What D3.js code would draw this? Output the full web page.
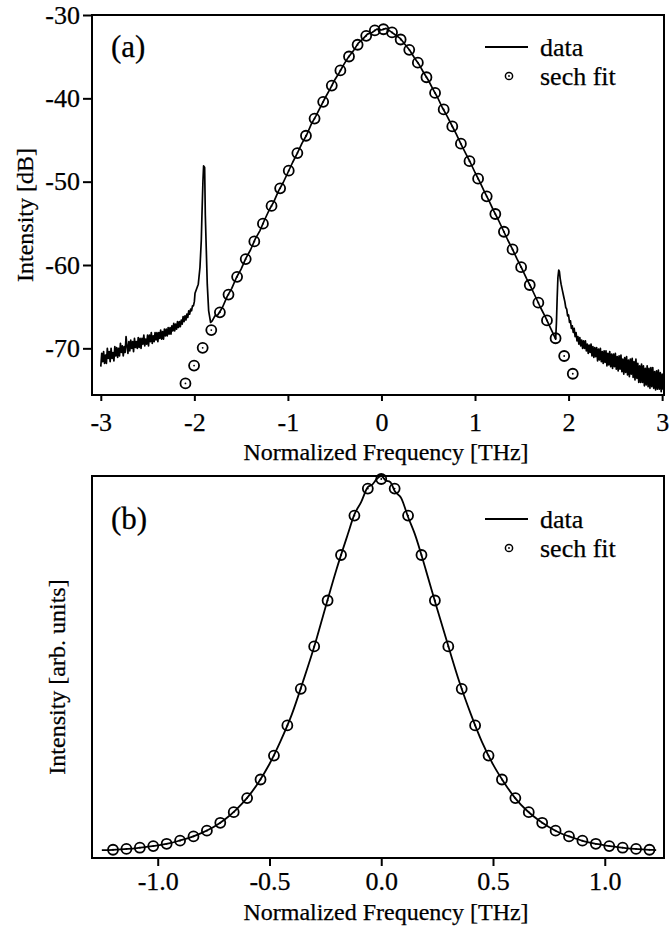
<!DOCTYPE html>
<html><head><meta charset="utf-8">
<script src="https://cdn.jsdelivr.net/npm/d3@7"></script>
<style>body{margin:0;background:#fff}svg text{font-family:'Liberation Serif','Times New Roman',serif;fill:#000;stroke:#000;stroke-width:0.25px}</style>
</head><body>
<svg id="c" width="670" height="940" font-family="Liberation Serif"></svg>
<script>
// ---------- Panel (a) ----------
const freqTicksA = [-3, -2, -1, 0, 1, 2, 3];
const intTicksA = [-30, -40, -50, -60, -70];
const fitFreqA = [-2.095,-2.003,-1.911,-1.819,-1.727,-1.635,-1.543,-1.451,-1.359,-1.267,-1.175,-1.083,-0.991,-0.899,-0.807,-0.715,-0.623,-0.531,-0.439,-0.347,-0.255,-0.163,-0.071,0.021,0.113,0.205,0.297,0.389,0.481,0.573,0.665,0.757,0.849,0.941,1.033,1.125,1.217,1.309,1.401,1.493,1.585,1.677,1.769,1.861,1.953,2.045];
const fitIntA = [-74.21,-72.07,-69.94,-67.81,-65.68,-63.55,-61.42,-59.29,-57.17,-55.04,-52.91,-50.80,-48.68,-46.57,-44.49,-42.43,-40.42,-38.47,-36.65,-34.98,-33.57,-32.50,-31.85,-31.71,-32.09,-32.94,-34.18,-35.72,-37.47,-39.35,-41.33,-43.37,-45.44,-47.54,-49.64,-51.76,-53.88,-56.01,-58.13,-60.26,-62.40,-64.52,-66.65,-68.79,-70.92,-73.05];
// noisy left wing, sampled every 0.01 THz from -3.00
const wingLeftStartA = -3.00;
const wingLeftIntA = [-72.2,-70.6,-71.6,-70.4,-71.8,-70.8,-71.8,-70.0,-71.2,-70.4,-71.6,-70.0,-71.2,-70.5,-71.5,-69.8,-70.9,-69.9,-71.1,-70.0,-70.9,-69.4,-70.5,-69.7,-70.9,-69.8,-70.5,-68.6,-69.7,-70.6,-69.2,-70.3,-69.0,-70.0,-69.2,-70.4,-68.8,-69.9,-69.2,-70.0,-68.7,-69.9,-68.8,-70.0,-68.8,-69.5,-68.4,-69.7,-68.9,-69.5,-68.4,-69.7,-68.4,-69.2,-68.1,-69.4,-68.5,-69.2,-68.1,-69.0,-68.1,-69.2,-68.1,-68.8,-67.8,-68.9,-68.0,-68.9,-67.7,-68.5,-67.7,-68.5,-67.5,-68.3,-67.5,-68.3,-67.3,-67.9,-67.0,-67.9,-67.1,-67.7,-66.8,-67.5,-66.8,-67.4,-66.6,-67.1,-66.2,-66.8,-66.1,-66.6,-65.9,-66.3,-65.5,-65.9,-65.3,-65.5,-64.9,-64.9,-64.4];
const peakLeftFreqA = [-1.993,-1.958,-1.940,-1.926,-1.919,-1.908,-1.901,-1.890,-1.883,-1.872,-1.862,-1.847,-1.826,-1.809,-1.780];
const peakLeftIntA = [-63.4,-62.3,-60.3,-57.1,-54.1,-49.9,-48.1,-48.3,-53.9,-58.3,-62.3,-65.5,-66.9,-66.7,-66.1];
const coreFreqA = [-1.75,-1.70,-1.65,-1.60,-1.55,-1.50,-1.45,-1.40,-1.35,-1.30,-1.25,-1.20,-1.15,-1.10,-1.05,-1.00,-0.95,-0.90,-0.85,-0.80,-0.75,-0.70,-0.65,-0.60,-0.55,-0.50,-0.45,-0.40,-0.35,-0.30,-0.25,-0.20,-0.15,-0.10,-0.05,0.00,0.05,0.10,0.15,0.20,0.25,0.30,0.35,0.40,0.45,0.50,0.55,0.60,0.65,0.70,0.75,0.80,0.85,0.90,0.95,1.00,1.05,1.10,1.15,1.20,1.25,1.30,1.35,1.40,1.45,1.50,1.55,1.60,1.65,1.70,1.75,1.80];
const coreIntA = [-66.0,-65.1,-63.8,-62.8,-61.5,-60.5,-59.2,-58.2,-56.9,-55.9,-54.6,-53.4,-52.4,-51.1,-50.1,-48.9,-47.7,-46.6,-45.4,-44.4,-43.1,-42.1,-41.0,-39.9,-38.9,-37.8,-36.9,-35.9,-35.0,-34.3,-33.4,-32.9,-32.3,-32.1,-31.7,-31.8,-31.6,-32.0,-32.4,-32.8,-33.5,-34.2,-35.1,-35.9,-36.9,-37.8,-38.9,-39.9,-41.1,-42.1,-43.2,-44.3,-45.5,-46.6,-47.7,-48.9,-50.0,-51.2,-52.3,-53.5,-54.6,-55.8,-57.0,-58.1,-59.3,-60.4,-61.6,-62.7,-63.9,-65.1,-66.2,-67.4];
const peakRightFreqA = [1.850,1.862,1.870,1.878,1.886,1.895,1.902,1.910,1.920,1.935];
const peakRightIntA = [-68.6,-68.9,-67.0,-64.0,-61.5,-60.6,-60.8,-61.6,-62.3,-63.1];
// noisy right wing, sampled every 0.01 THz from 1.95
const wingRightStartA = 1.95;
const wingRightIntA = [-63.9,-64.4,-65.1,-65.3,-66.1,-66.0,-66.9,-66.7,-67.6,-67.3,-68.1,-67.6,-68.6,-68.1,-69.1,-68.6,-69.5,-68.7,-69.7,-69.0,-70.0,-69.1,-70.0,-69.1,-70.3,-69.5,-70.6,-69.6,-70.5,-69.5,-70.9,-69.8,-71.1,-69.9,-71.0,-69.9,-71.5,-70.1,-71.4,-70.0,-71.6,-70.4,-71.8,-70.3,-71.7,-70.3,-72.1,-70.6,-72.0,-70.4,-72.2,-70.7,-72.4,-70.7,-72.2,-70.6,-72.5,-71.0,-72.7,-70.9,-72.5,-70.8,-72.8,-71.3,-73.1,-71.1,-72.9,-71.0,-73.2,-71.4,-73.4,-71.3,-73.1,-71.2,-73.5,-71.6,-73.8,-71.3,-73.6,-71.8,-74.1,-72.1,-74.1,-71.9,-74.1,-72.1,-74.5,-72.4,-74.4,-72.1,-74.6,-72.4,-74.8,-72.3,-74.6,-72.3,-74.8,-72.8,-75.0,-72.7,-74.9,-72.6,-74.9,-72.9,-75.2,-73.1,-74.9,-73.4];

// ---------- Panel (b) ----------
const freqTicksB = [-1.0, -0.5, 0.0, 0.5, 1.0];
const fitFreqB = [-1.20,-1.14,-1.08,-1.02,-0.96,-0.90,-0.84,-0.78,-0.72,-0.66,-0.60,-0.54,-0.48,-0.42,-0.36,-0.30,-0.24,-0.18,-0.12,-0.06,0.00,0.06,0.12,0.18,0.24,0.30,0.36,0.42,0.48,0.54,0.60,0.66,0.72,0.78,0.84,0.90,0.96,1.02,1.08,1.14,1.20];
const fitIntB = [0.0061,0.0084,0.0116,0.0160,0.0221,0.0304,0.0418,0.0573,0.0784,0.1068,0.1446,0.1944,0.2586,0.3394,0.4375,0.5511,0.6742,0.7962,0.9018,0.9742,1.0,0.9742,0.9018,0.7962,0.6742,0.5511,0.4375,0.3394,0.2586,0.1944,0.1446,0.1068,0.0784,0.0573,0.0418,0.0304,0.0221,0.0160,0.0116,0.0084,0.0061];
const dataFreqB = [-1.25,-1.20,-1.15,-1.10,-1.05,-1.00,-0.95,-0.90,-0.85,-0.80,-0.75,-0.70,-0.65,-0.60,-0.55,-0.50,-0.45,-0.40,-0.35,-0.30,-0.25,-0.20,-0.15,-0.12,-0.09,-0.06,-0.04,-0.02,0.00,0.02,0.04,0.06,0.09,0.12,0.15,0.20,0.25,0.30,0.35,0.40,0.45,0.50,0.55,0.60,0.65,0.70,0.75,0.80,0.85,0.90,0.95,1.00,1.05,1.10,1.15,1.20,1.23];
const dataIntB = [0.005,0.006,0.008,0.010,0.014,0.018,0.023,0.031,0.040,0.052,0.067,0.087,0.113,0.145,0.186,0.236,0.298,0.369,0.457,0.550,0.655,0.758,0.851,0.905,0.938,0.978,0.985,1.000,1.008,0.996,0.992,0.968,0.948,0.898,0.853,0.755,0.652,0.552,0.455,0.371,0.296,0.235,0.186,0.144,0.112,0.087,0.067,0.051,0.040,0.030,0.023,0.018,0.014,0.010,0.008,0.006,0.005];

const legendLabels = ["data", "sech fit"];
const panelLabels = ["(a)", "(b)"];
const xTitle = "Normalized Frequency [THz]";
const yTitles = ["Intensity [dB]", "Intensity [arb. units]"];

// ---------- drawing ----------
const svg = d3.select("#c");
const FONT = "'Liberation Serif','Times New Roman',serif";
const FT = 26, FTITLE = 24, FLEG = 26, FPANEL = 31;
const L = 92, R = 664;
const hy = s => s.replace(/\u2212/g, "-");

function legend(g, y0) {
  g.append("line").attr("x1", 485).attr("x2", 528).attr("y1", y0).attr("y2", y0)
    .attr("stroke", "#000").attr("stroke-width", 1.8);
  g.append("text").attr("x", 540).attr("y", y0).attr("dy", "0.33em").attr("font-size", FLEG).text(legendLabels[0]);
  g.append("circle").attr("cx", 509).attr("cy", y0 + 29).attr("r", 3.6)
    .attr("fill", "none").attr("stroke", "#000").attr("stroke-width", 1.5);
  g.append("circle").attr("cx", 509).attr("cy", y0 + 29).attr("r", 0.9).attr("fill", "#000");
  g.append("text").attr("x", 540).attr("y", y0 + 29).attr("dy", "0.33em").attr("font-size", FLEG).text(legendLabels[1]);
}

function fitCircles(g, xs, ys, x, y) {
  const pts = xs.map((f, i) => [f, ys[i]]);
  g.selectAll("circle.fit").data(pts).join("circle").attr("class", "fit")
    .attr("cx", d => x(d[0])).attr("cy", d => y(d[1])).attr("r", 5)
    .attr("fill", "none").attr("stroke", "#000").attr("stroke-width", 1.8);
  g.selectAll("circle.dot").data(pts).join("circle").attr("class", "dot")
    .attr("cx", d => x(d[0])).attr("cy", d => y(d[1])).attr("r", 0.9).attr("fill", "#000");
}

function styleAxis(a) {
  a.attr("font-family", FONT);
  a.select(".domain").remove();
  a.selectAll("line").attr("stroke-width", 2);
  a.selectAll("text").attr("font-size", FT);
}

// Panel (a)
{
  const T = 15, B = 395;
  const x = d3.scaleLinear().domain([-3.094, 3.02]).range([L, R]);
  const y = d3.scaleLinear().domain([-75.6, -30]).range([B, T]);
  const g = svg.append("g");
  g.append("defs").append("clipPath").attr("id", "clipA").append("rect")
    .attr("x", L).attr("y", T).attr("width", R - L).attr("height", B - T);

  const wl = wingLeftIntA.map((v, i) => [wingLeftStartA + i * 0.01, v]);
  const pl = peakLeftFreqA.map((f, i) => [f, peakLeftIntA[i]]);
  const co = coreFreqA.map((f, i) => [f, coreIntA[i]]);
  const pr = peakRightFreqA.map((f, i) => [f, peakRightIntA[i]]);
  const wr = wingRightIntA.map((v, i) => [wingRightStartA + i * 0.01, v]);
  const all = [...wl, ...pl, ...co, ...pr, ...wr];
  g.append("path").datum(all).attr("clip-path", "url(#clipA)")
    .attr("d", d3.line().x(d => x(d[0])).y(d => y(d[1])))
    .attr("fill", "none").attr("stroke", "#000").attr("stroke-width", 1.7).attr("stroke-linejoin", "round");

  fitCircles(g, fitFreqA, fitIntA, x, y);

  g.append("rect").attr("x", L).attr("y", T).attr("width", R - L).attr("height", B - T)
    .attr("fill", "none").attr("stroke", "#000").attr("stroke-width", 2);

  const ax = g.append("g").attr("transform", `translate(0,${B})`)
    .call(d3.axisBottom(x).tickValues(freqTicksA).tickSize(6).tickPadding(12).tickFormat(d => hy(d3.format("d")(d))));
  styleAxis(ax);

  const ay = g.append("g").attr("transform", `translate(${L},0)`)
    .call(d3.axisLeft(y).tickValues(intTicksA).tickSize(9).tickPadding(3).tickFormat(d => hy(d3.format("d")(d))));
  styleAxis(ay);

  g.append("text").attr("x", (L + R) / 2 + 8).attr("y", 460).attr("text-anchor", "middle")
    .attr("font-size", FTITLE).text(xTitle);
  g.append("text").attr("transform", "translate(33,215) rotate(-90)").attr("text-anchor", "middle")
    .attr("font-size", FTITLE).text(yTitles[0]);
  g.append("text").attr("x", 111).attr("y", 47).attr("dy", "0.33em").attr("font-size", FPANEL).text(panelLabels[0]);
  legend(g, 47);
}

// Panel (b)
{
  const T = 476, B = 858;
  const x = d3.scaleLinear().domain([-1.294, 1.265]).range([L, R]);
  const y = d3.scaleLinear().domain([-0.016, 1.008]).range([B, T]);
  const g = svg.append("g");

  g.append("path").datum(dataFreqB.map((f, i) => [f, dataIntB[i]]))
    .attr("d", d3.line().x(d => x(d[0])).y(d => y(d[1])).curve(d3.curveMonotoneX))
    .attr("fill", "none").attr("stroke", "#000").attr("stroke-width", 1.8);

  fitCircles(g, fitFreqB, fitIntB, x, y);

  g.append("rect").attr("x", L).attr("y", T).attr("width", R - L).attr("height", B - T)
    .attr("fill", "none").attr("stroke", "#000").attr("stroke-width", 2);

  const ax = g.append("g").attr("transform", `translate(0,${B})`)
    .call(d3.axisBottom(x).tickValues(freqTicksB).tickSize(8).tickPadding(6).tickFormat(d => hy(d3.format(".1f")(d))));
  styleAxis(ax);

  g.append("text").attr("x", (L + R) / 2 + 8).attr("y", 920).attr("text-anchor", "middle")
    .attr("font-size", FTITLE).text(xTitle);
  g.append("text").attr("transform", "translate(65,677) rotate(-90)").attr("text-anchor", "middle")
    .attr("font-size", FTITLE).text(yTitles[1]);
  g.append("text").attr("x", 111).attr("y", 519).attr("dy", "0.33em").attr("font-size", FPANEL).text(panelLabels[1]);
  legend(g, 519);
}
</script>
</body></html>
